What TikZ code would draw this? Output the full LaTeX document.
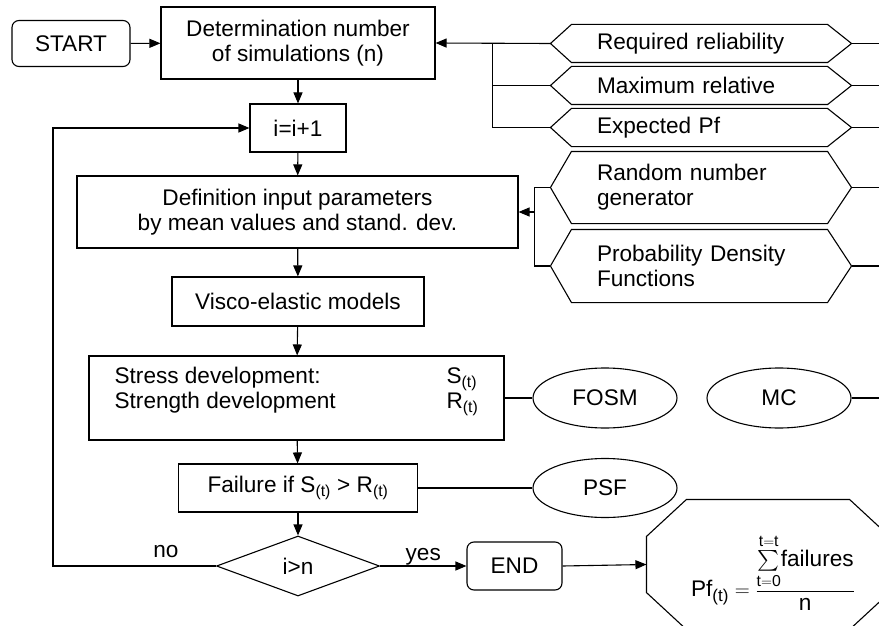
\documentclass[tikz,border=0pt]{standalone}
\usepackage{amsmath}
\usepackage{fontspec}
\setmainfont{Liberation Sans}
\usetikzlibrary{arrows.meta,positioning,shapes.geometric}
\newcommand{\hexoutline}[1]{\draw (#1.west) -- ([xshift=21pt]#1.north west) -- ([xshift=-24pt]#1.north east)
  -- (#1.east) -- ([xshift=-24pt]#1.south east) -- ([xshift=21pt]#1.south west) -- cycle;}
\newcommand{\tsub}{\textsubscript{(t)}}

\begin{document}
\begin{tikzpicture}[x=1pt,y=-1pt,>={Triangle[length=11pt,width=9pt]},line width=1.1pt,
    font=\fontsize{22.6}{25}\selectfont,
    box/.style={draw,rectangle,align=center,inner sep=0pt},
    term/.style={draw,rounded corners=7pt,minimum width=118pt,minimum height=46pt},
    hexnode/.style={minimum width=300pt,text width=208pt,align=left,inner xsep=0pt,inner ysep=0pt},
    oval/.style={draw,ellipse,minimum width=144pt,minimum height=60pt,inner sep=0pt},
    decide/.style={draw,diamond,minimum width=163pt,minimum height=60pt,inner sep=0pt}]
  \useasboundingbox (0,0) rectangle (879,626);
  \clip (0,0) rectangle (879,626);
  % main column
  \node[term] (start) at (71,43.5) {START};
  \node[box,minimum width=274pt,minimum height=72pt] (det) at (298,43) {Determination number\\of simulations (n)};
  \node[box,minimum width=96pt,minimum height=48pt] (inc) at (298,128) {i=i+1};
  \node[box,minimum width=441pt,minimum height=72pt] (defin) at (297.5,212) {Definition input parameters\\by mean values and stand. dev.};
  \node[box,minimum width=252pt,minimum height=49pt] (visco) at (298,301.5) {Visco-elastic models};
  \node[box,minimum width=415pt,minimum height=84pt] (stress) at (296.5,398)
    {\begin{tabular}{@{}p{332pt}@{}l@{}}Stress development: & S\tsub\\ Strength development & R\tsub\\[14pt]\end{tabular}};
  \node[box,minimum width=239pt,minimum height=48pt] (fail) at (298,488) {Failure if S\tsub{} > R\tsub};
  \node[decide] (dec) at (298,566) {i>n};
  \node[term,minimum width=95pt,minimum height=48pt] (endn) at (514.5,566) {END};
  % result octagon
  \node[minimum width=242pt,minimum height=129pt,inner sep=0pt] (pf) at (768,564.5) {};
  \draw ([xshift=40pt]pf.north west) -- ([xshift=-40pt]pf.north east) -- ([yshift=-37pt]pf.north east)
    -- ([yshift=37pt]pf.south east) -- ([xshift=-40pt]pf.south east) -- ([xshift=40pt]pf.south west)
    -- ([yshift=37pt]pf.south west) -- ([yshift=-37pt]pf.north west) -- cycle;
  \node[inner sep=0pt] (pfeq) at ([xshift=5pt,yshift=-8pt]pf.center)
    {$\text{Pf}_{\mbox{\fontsize{17}{17}\selectfont(t)}} = \dfrac{{\textstyle\sum\limits_{\text{t}=\text{0}}^{\text{t}=\text{t}}}\text{failures}}{\text{n}}$};
  % inputs on the right
  \node[hexnode,minimum height=37pt] (rr) at (701,43.5) {Required reliability};
  \node[hexnode,minimum height=37pt] (mr) at (701,85.5) {Maximum relative};
  \node[hexnode,minimum height=37pt] (ep) at (701,127.5) {Expected Pf};
  \node[hexnode,minimum height=71pt] (rng) at (701,187.5) {Random number\\generator};
  \node[hexnode,minimum height=72pt] (pdf) at (701,266) {Probability Density\\Functions};
  \foreach \n in {rr,mr,ep,rng,pdf} {\hexoutline{\n} \draw (\n.east) -- ++(40,0);}
  \node[oval] (fosm) at (605,398) {FOSM};
  \node[oval] (mc) at (779,398) {MC};
  \node[oval,minimum height=59pt] (psf) at (605,488) {PSF};
  % connectors
  \draw[->] (start) -- (det);
  \draw[->] (det) -- (inc);
  \draw[->] (inc) -- (defin);
  \draw[->] (defin) -- (visco);
  \draw[->] (visco) -- (stress);
  \draw[->] (stress) -- (fail);
  \draw[->] (fail) -- (dec);
  \draw[->] (dec.west) -- ++(-163,0) |- (inc.west);
  \node (no) at (166,552) {no};
  \draw[->] (dec.east) -- node[above=-3pt] (yes) {yes} (endn.west);
  \draw[->] (endn.east) -- (pf.west);
  \draw[->] (rr.west) -- (det.east);
  \draw (ep.west) -- ++(-58,0) |- (rr.west);
  \draw (mr.west) -- ++(-58,0);
  \draw (pdf.west) -- ++(-16,0) |- (rng.west);
  \draw[->] ([xshift=-16pt]rng.west |- defin.east) -- (defin.east);
  \draw (stress.east) -- (fosm.west);
  \draw (fail.east) -- (psf.west);
  \draw (mc.east) -- ++(40,0);
\end{tikzpicture}
\end{document}
